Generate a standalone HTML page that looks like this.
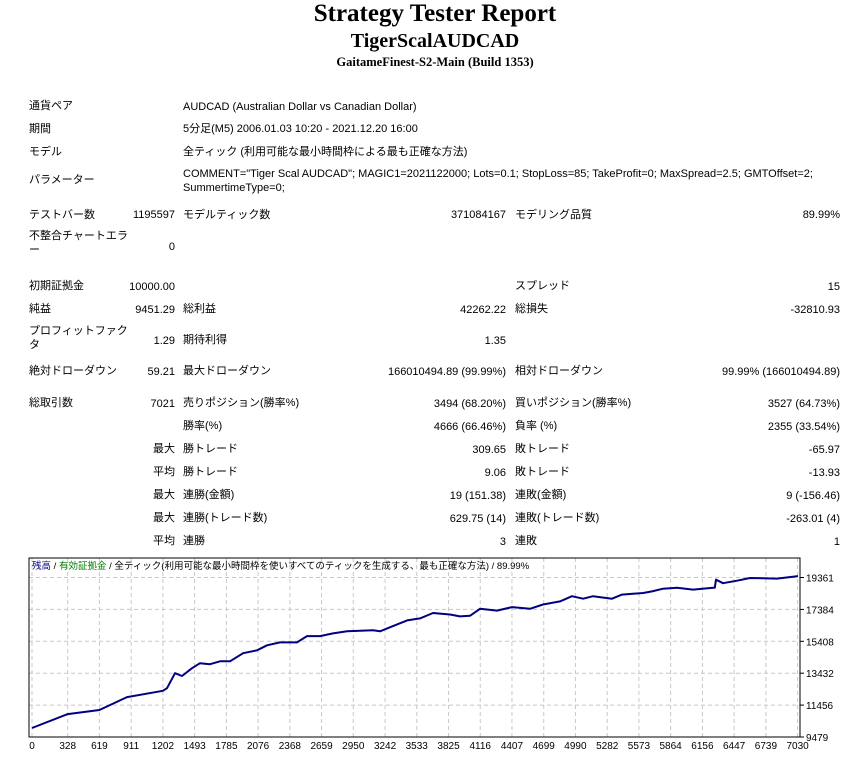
<!DOCTYPE html>
<html><head><meta charset="utf-8">
<style>
body{margin:0;width:860px;height:757px;background:#fff;position:relative;overflow:hidden;font-family:"Liberation Sans","Noto Sans CJK JP",sans-serif;font-size:11px;color:#000}
.t{position:absolute;line-height:14px;white-space:nowrap}
.r{position:absolute;line-height:14px;white-space:nowrap;text-align:right}
h1,h2,h3{position:absolute;left:0;width:870px;text-align:center;margin:0;font-family:"Liberation Serif","Noto Serif CJK SC",serif;font-weight:bold}
</style></head><body>
<h1 style="top:0;font-size:25px">Strategy Tester Report</h1>
<h2 style="top:30px;font-size:20px">TigerScalAUDCAD</h2>
<h3 style="top:55px;font-size:12.5px">GaitameFinest-S2-Main (Build 1353)</h3>

<div class="t" style="left:29px;top:99px">通貨ペア</div>
<div class="t" style="left:183px;top:100px">AUDCAD (Australian Dollar vs Canadian Dollar)</div>
<div class="t" style="left:29px;top:122px">期間</div>
<div class="t" style="left:183px;top:122px">5分足(M5) 2006.01.03 10:20 - 2021.12.20 16:00</div>
<div class="t" style="left:29px;top:145px">モデル</div>
<div class="t" style="left:183px;top:145px">全ティック (利用可能な最小時間枠による最も正確な方法)</div>
<div class="t" style="left:29px;top:173px">パラメーター</div>
<div class="t" style="left:183px;top:167px">COMMENT="Tiger Scal AUDCAD"; MAGIC1=2021122000; Lots=0.1; StopLoss=85; TakeProfit=0; MaxSpread=2.5; GMTOffset=2;<br>SummertimeType=0;</div>

<div class="t" style="left:29px;top:208px">テストバー数</div>
<div class="r" style="right:685px;top:208px">1195597</div>
<div class="t" style="left:183px;top:208px">モデルティック数</div>
<div class="r" style="right:354px;top:208px">371084167</div>
<div class="t" style="left:515px;top:208px">モデリング品質</div>
<div class="r" style="right:20px;top:208px">89.99%</div>

<div class="t" style="left:29px;top:229px">不整合チャートエラ<br>ー</div>
<div class="r" style="right:685px;top:240px">0</div>

<div class="t" style="left:29px;top:279px">初期証拠金</div>
<div class="r" style="right:685px;top:280px">10000.00</div>
<div class="t" style="left:515px;top:279px">スプレッド</div>
<div class="r" style="right:20px;top:280px">15</div>

<div class="t" style="left:29px;top:302px">純益</div>
<div class="r" style="right:685px;top:303px">9451.29</div>
<div class="t" style="left:183px;top:302px">総利益</div>
<div class="r" style="right:354px;top:303px">42262.22</div>
<div class="t" style="left:515px;top:302px">総損失</div>
<div class="r" style="right:20px;top:303px">-32810.93</div>

<div class="t" style="left:29px;top:324px">プロフィットファク<br>タ</div>
<div class="r" style="right:685px;top:334px">1.29</div>
<div class="t" style="left:183px;top:333px">期待利得</div>
<div class="r" style="right:354px;top:334px">1.35</div>

<div class="t" style="left:29px;top:364px">絶対ドローダウン</div>
<div class="r" style="right:685px;top:365px">59.21</div>
<div class="t" style="left:183px;top:364px">最大ドローダウン</div>
<div class="r" style="right:354px;top:365px">166010494.89 (99.99%)</div>
<div class="t" style="left:515px;top:364px">相対ドローダウン</div>
<div class="r" style="right:20px;top:365px">99.99% (166010494.89)</div>

<div class="t" style="left:29px;top:396px">総取引数</div>
<div class="r" style="right:685px;top:397px">7021</div>
<div class="t" style="left:183px;top:396px">売りポジション(勝率%)</div>
<div class="r" style="right:354px;top:397px">3494 (68.20%)</div>
<div class="t" style="left:515px;top:396px">買いポジション(勝率%)</div>
<div class="r" style="right:20px;top:397px">3527 (64.73%)</div>

<div class="t" style="left:183px;top:419px">勝率(%)</div>
<div class="r" style="right:354px;top:420px">4666 (66.46%)</div>
<div class="t" style="left:515px;top:419px">負率 (%)</div>
<div class="r" style="right:20px;top:420px">2355 (33.54%)</div>

<div class="r" style="right:685px;top:442px">最大</div>
<div class="t" style="left:183px;top:442px">勝トレード</div>
<div class="r" style="right:354px;top:443px">309.65</div>
<div class="t" style="left:515px;top:442px">敗トレード</div>
<div class="r" style="right:20px;top:443px">-65.97</div>

<div class="r" style="right:685px;top:465px">平均</div>
<div class="t" style="left:183px;top:465px">勝トレード</div>
<div class="r" style="right:354px;top:466px">9.06</div>
<div class="t" style="left:515px;top:465px">敗トレード</div>
<div class="r" style="right:20px;top:466px">-13.93</div>

<div class="r" style="right:685px;top:488px">最大</div>
<div class="t" style="left:183px;top:488px">連勝(金額)</div>
<div class="r" style="right:354px;top:489px">19 (151.38)</div>
<div class="t" style="left:515px;top:488px">連敗(金額)</div>
<div class="r" style="right:20px;top:489px">9 (-156.46)</div>

<div class="r" style="right:685px;top:511px">最大</div>
<div class="t" style="left:183px;top:511px">連勝(トレード数)</div>
<div class="r" style="right:354px;top:512px">629.75 (14)</div>
<div class="t" style="left:515px;top:511px">連敗(トレード数)</div>
<div class="r" style="right:20px;top:512px">-263.01 (4)</div>

<div class="r" style="right:685px;top:534px">平均</div>
<div class="t" style="left:183px;top:534px">連勝</div>
<div class="r" style="right:354px;top:535px">3</div>
<div class="t" style="left:515px;top:534px">連敗</div>
<div class="r" style="right:20px;top:535px">1</div>

<svg id="chart" style="position:absolute;left:0;top:0" width="860" height="757"></svg>

<script>
const xTicks=[0,328,619,911,1202,1493,1785,2076,2368,2659,2950,3242,3533,3825,4116,4407,4699,4990,5282,5573,5864,6156,6447,6739,7030];
const yTicks=[9479,11456,13432,15408,17384,19361];
const tradeNums=[0,328,619,872,1202,1240,1313,1377,1469,1543,1634,1726,1818,1938,2066,2158,2277,2433,2525,2645,2764,2893,3131,3196,3315,3444,3563,3682,3838,3930,4022,4114,4270,4408,4573,4692,4848,4958,5060,5151,5326,5418,5611,5693,5794,5923,6070,6254,6270,6281,6345,6474,6593,6841,7034];
const balance=[10035,10900,11150,11950,12340,12500,13430,13260,13740,14050,13990,14170,14170,14670,14850,15160,15340,15340,15730,15730,15900,16030,16090,16030,16350,16700,16830,17160,17070,16950,16990,17420,17310,17530,17420,17690,17880,18200,18050,18200,18050,18300,18400,18500,18670,18730,18610,18730,18730,19230,19010,19160,19330,19290,19450];

const NS='http://www.w3.org/2000/svg';
const svg=document.getElementById('chart');
const L=29,R=800,T=558,B=737;
const X0=32,X1=797.6,Y0=737,Y1=577.5;
const xs=n=>X0+(n-xTicks[0])*(X1-X0)/(xTicks[xTicks.length-1]-xTicks[0]);
const ys=v=>Y0-(v-yTicks[0])*(Y0-Y1)/(yTicks[yTicks.length-1]-yTicks[0]);
function mk(tag,attrs){const e=document.createElementNS(NS,tag);for(const k in attrs)e.setAttribute(k,attrs[k]);svg.appendChild(e);return e;}

const frame=mk('rect',{x:L,y:T,width:R-L,height:B-T,fill:'#fff',stroke:'#000','stroke-width':1});



xTicks.forEach((n,i)=>{
  const x=xs(n);
  const g=mk('line',{x1:x,x2:x,y1:T,y2:B,stroke:'#c8c8c8','stroke-dasharray':'4,3'});
  
  
  const t=mk('text',{x:x,y:749,'font-size':10,'text-anchor':'middle','font-family':'Liberation Sans, sans-serif'});
  t.textContent=n;
  
  
});
yTicks.forEach(v=>{
  const y=ys(v);
  const g=mk('line',{x1:L,x2:R,y1:y,y2:y,stroke:'#c8c8c8','stroke-dasharray':'4,3'});
  
  
  const tk=mk('line',{x1:R,x2:R+4,y1:y,y2:y,stroke:'#000'});
  
  
  const t=mk('text',{x:806,y:y+4,'font-size':10,'font-family':'Liberation Sans, sans-serif'});
  t.textContent=v;
  
  
});
mk('rect',{x:L,y:T,width:R-L,height:B-T,fill:'none',stroke:'#000','stroke-width':1});

const pts=tradeNums.map((n,i)=>xs(n).toFixed(1)+','+ys(balance[i]).toFixed(1)).join(' ');
const line=mk('polyline',{points:pts,fill:'none',stroke:'#000080','stroke-width':2,'stroke-linejoin':'round'});



const leg=mk('text',{x:32,y:569,'font-size':9.5,'font-family':'Liberation Sans, Noto Sans CJK JP, sans-serif'});


[['残高','#000080'],[' / ','#000'],['有効証拠金','#008000'],[' / 全ティック(利用可能な最小時間枠を使いすべてのティックを生成する、最も正確な方法) / 89.99%','#000']].forEach(([s,c])=>{
  const sp=document.createElementNS(NS,'tspan');sp.setAttribute('fill',c);sp.textContent=s;leg.appendChild(sp);
});
</script>
</body></html>
